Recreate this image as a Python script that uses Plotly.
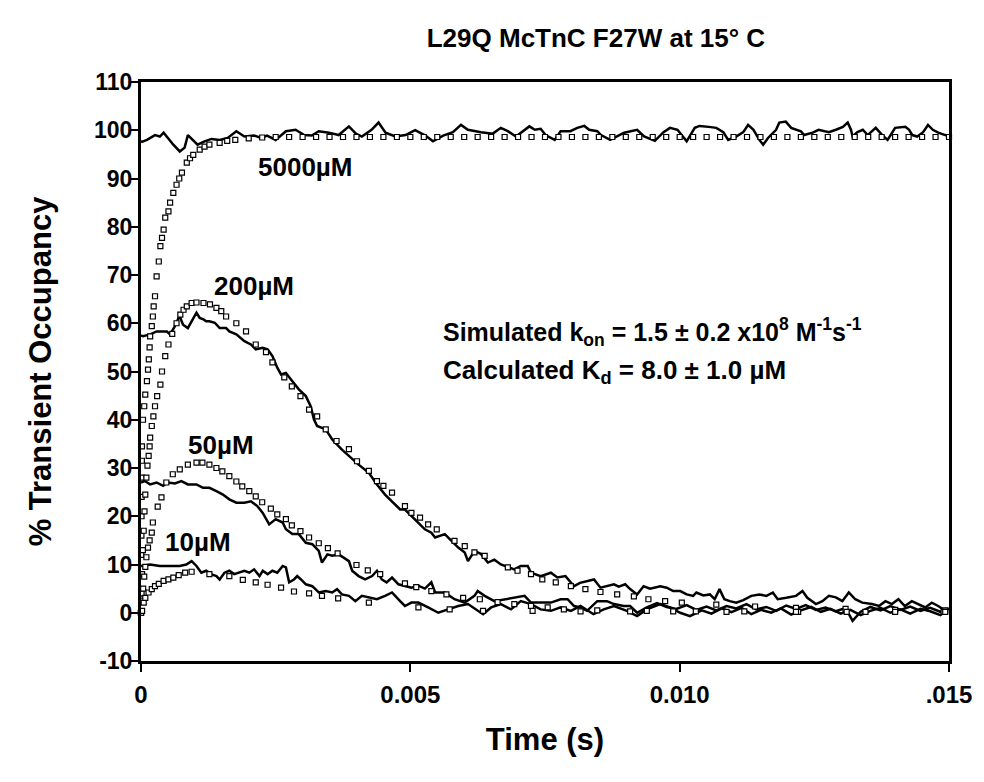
import plotly.graph_objects as go

# ---------------- data (time in ms, occupancy in %) ----------------
# experimental traces
t_5000 = [0.0, 0.02, 0.11, 0.17, 0.26, 0.35, 0.42, 0.50, 0.60, 0.72, 0.81, 0.87, 0.96, 1.05, 1.18, 1.31,
          1.46, 1.61, 1.77, 1.92, 2.10, 2.23, 2.34, 2.50, 2.69, 2.87, 3.03, 3.17, 3.30, 3.49, 3.67, 3.86,
          3.99, 4.10, 4.28, 4.41, 4.54, 4.72, 4.91, 5.09, 5.28, 5.42, 5.61, 5.79, 5.94, 6.07, 6.31, 6.53,
          6.68, 6.81, 6.96, 7.14, 7.21, 7.31, 7.42, 7.51, 7.68, 7.79, 7.97, 8.10, 8.23, 8.32, 8.47, 8.54,
          8.71, 8.97, 9.08, 9.21, 9.34, 9.54, 9.70, 9.82, 9.96, 10.13, 10.28, 10.37, 10.54, 10.68, 10.81,
          10.90, 11.05, 11.18, 11.27, 11.37, 11.48, 11.55, 11.64, 11.79, 11.85, 11.97, 12.07, 12.25, 12.31,
          12.47, 12.58, 12.77, 12.90, 13.03, 13.12, 13.18, 13.21, 13.30, 13.40, 13.49, 13.64, 13.76, 13.86,
          13.95, 14.00, 14.19, 14.26, 14.32, 14.41, 14.52, 14.61, 14.70, 14.80, 14.93, 15.0]
v_5000 = [97.8, 97.6, 98.0, 98.4, 99.0, 98.7, 99.5, 98.4, 97.0, 95.6, 96.4, 99.0, 98.0, 97.0, 97.7, 98.2,
          98.0, 98.4, 99.8, 98.7, 98.9, 98.4, 98.9, 98.0, 99.8, 100.1, 99.0, 98.9, 99.8, 99.5, 99.0, 100.8,
          99.3, 98.7, 100.1, 101.6, 99.5, 98.7, 99.0, 100.0, 98.9, 97.7, 98.9, 99.6, 101.1, 100.1, 99.6, 99.3,
          100.5, 99.8, 98.7, 100.1, 100.8, 100.1, 100.3, 99.0, 98.0, 99.8, 99.8, 100.5, 100.9, 100.1, 99.8, 99.0,
          98.0, 99.5, 99.8, 100.1, 98.7, 97.8, 99.6, 100.5, 100.1, 97.7, 100.5, 100.9, 100.7, 100.5, 99.6,
          98.0, 98.7, 99.6, 101.1, 100.1, 98.0, 97.0, 98.4, 100.1, 101.6, 101.8, 100.5, 99.8, 99.0,
          99.5, 100.1, 99.6, 100.1, 100.7, 101.6, 100.1, 98.7, 99.6, 100.1, 99.0, 100.5, 99.0, 98.0,
          99.6, 100.5, 100.7, 100.1, 99.0, 98.7, 99.6, 101.1, 100.1, 99.5, 99.0, 98.8]

t_200 = [0.0, 0.04, 0.17, 0.29, 0.41, 0.48, 0.54, 0.63, 0.70, 0.72, 0.78, 0.87, 0.96, 1.03, 1.09, 1.16,
         1.21, 1.27, 1.37, 1.46, 1.58, 1.64, 1.77, 1.92, 2.04, 2.13, 2.26, 2.35, 2.44, 2.53, 2.60, 2.69,
         2.81, 2.93, 3.06, 3.15, 3.21, 3.27, 3.43, 3.55, 3.73, 3.89, 4.04, 4.23, 4.38, 4.53, 4.66, 4.81,
         4.90, 5.02, 5.15, 5.27, 5.39, 5.46, 5.64, 5.76, 5.89, 6.01, 6.07, 6.19, 6.31, 6.44, 6.56, 6.68,
         6.81, 6.93, 7.05, 7.18, 7.24, 7.42, 7.61, 7.73, 7.88, 8.04, 8.15, 8.28, 8.41, 8.53, 8.65, 8.78,
         8.87, 8.99, 9.08, 9.21, 9.33, 9.45, 9.64, 9.76, 9.88, 10.01, 10.13, 10.25, 10.31, 10.44, 10.56,
         10.65, 10.74, 10.83, 10.93, 11.05, 11.18, 11.33, 11.48, 11.61, 11.73, 11.82, 11.98, 12.16, 12.28,
         12.37, 12.53, 12.65, 12.77, 12.90, 13.02, 13.14, 13.26, 13.39, 13.57, 13.70, 13.82, 13.94, 14.06,
         14.18, 14.31, 14.43, 14.56, 14.68, 14.80, 14.93, 15.0]
v_200 = [57.5, 57.3, 57.7, 58.3, 58.3, 58.3, 57.7, 59.4, 61.2, 61.4, 59.7, 59.0, 60.8, 62.2, 61.1, 60.8,
         60.4, 60.4, 60.1, 59.0, 59.0, 58.3, 57.7, 56.3, 55.6, 54.6, 54.9, 54.6, 53.2, 50.8, 49.4, 49.7,
         48.0, 46.3, 44.9, 42.8, 40.1, 38.7, 38.0, 35.9, 33.8, 32.1, 30.7, 29.0, 26.6, 24.5, 23.1, 21.4,
         21.4, 20.0, 18.7, 17.3, 16.6, 15.6, 16.3, 14.9, 13.5, 12.5, 10.7, 12.8, 12.2, 10.4, 11.0, 10.0,
         9.4, 9.0, 9.7, 9.7, 8.3, 7.6, 8.3, 7.3, 7.6, 5.5, 6.2, 6.6, 6.9, 5.2, 5.5, 5.9,
         5.4, 5.9, 4.9, 3.8, 5.5, 5.0, 5.5, 5.2, 4.5, 4.5, 3.8, 3.5, 4.2, 3.6, 3.8,
         2.8, 4.9, 2.8, 2.4, 2.1, 2.6, 3.5, 3.8, 3.5, 4.2, 2.8, 3.1, 3.5, 4.5,
         3.1, 1.8, 2.4, 3.5, 3.2, 2.4, 4.2, 2.8, 2.1, 1.8, 1.4, 2.4, 1.8, 2.8,
         1.4, 2.4, 1.8, 1.1, 2.1, 1.4, 0.4, 0.9]

t_50 = [0.0, 0.07, 0.17, 0.29, 0.41, 0.50, 0.63, 0.75, 0.87, 1.03, 1.15, 1.27, 1.40, 1.52, 1.64, 1.77,
        1.92, 2.04, 2.16, 2.26, 2.38, 2.50, 2.63, 2.69, 2.81, 2.93, 3.06, 3.18, 3.30, 3.36, 3.46, 3.55,
        3.67, 3.80, 3.86, 3.92, 4.04, 4.16, 4.29, 4.38, 4.47, 4.56, 4.66, 4.78, 4.90, 5.02, 5.15, 5.27,
        5.39, 5.46, 5.64, 5.82, 6.01, 6.19, 6.25, 6.38, 6.56, 6.75, 6.93, 7.12, 7.24, 7.42, 7.61, 7.79,
        7.92, 8.04, 8.16, 8.28, 8.47, 8.65, 8.78, 8.96, 9.08, 9.21, 9.39, 9.58, 9.76, 9.94, 10.13, 10.31,
        10.50, 10.68, 10.87, 11.05, 11.24, 11.42, 11.61, 11.79, 11.98, 12.16, 12.34, 12.53, 12.71, 12.90,
        13.08, 13.21, 13.36, 13.54, 13.73, 13.91, 14.10, 14.28, 14.47, 14.65, 14.84, 14.96]
v_50 = [27.0, 27.3, 26.6, 27.0, 26.3, 27.0, 26.8, 27.3, 26.6, 26.6, 25.9, 25.9, 25.2, 24.5, 23.5, 22.8,
        22.8, 23.1, 22.1, 20.7, 18.3, 19.4, 18.7, 17.3, 16.3, 16.3, 14.5, 14.2, 12.8, 10.4, 12.1, 11.8,
        12.1, 11.1, 10.7, 8.7, 7.6, 6.9, 7.6, 8.7, 6.9, 6.3, 7.3, 5.9, 5.5, 5.2, 5.6, 5.0,
        6.3, 4.2, 4.2, 2.8, 2.1, 3.5, 4.5, 3.5, 2.4, 2.8, 3.1, 3.5, 2.1, 2.1, 2.1, 2.8,
        2.8, 1.4, 1.1, 0.4, 2.4, 2.4, 1.8, 1.4, 1.4, 0.0, 1.1, 2.0, 1.2, 0.8, 1.6, 0.6,
        1.3, 0.5, 1.4, 0.9, 1.8, 0.7, 1.2, 0.4, 1.5, 0.8, 1.6, 0.6, 1.1, 0.3,
        1.0, -1.7, 0.2, 1.2, 0.5, 1.4, 0.6, 1.3, 0.4, 1.0, 0.2, 0.9]

t_10 = [0.0, 0.17, 0.35, 0.54, 0.72, 0.84, 0.94, 1.03, 1.12, 1.21, 1.30, 1.40, 1.46, 1.55, 1.64, 1.73,
        1.83, 1.92, 2.01, 2.10, 2.20, 2.26, 2.35, 2.44, 2.53, 2.63, 2.69, 2.75, 2.84, 2.90, 2.97, 3.06,
        3.18, 3.30, 3.43, 3.55, 3.64, 3.73, 3.86, 3.98, 4.10, 4.23, 4.38, 4.53, 4.66, 4.81, 4.90, 5.02,
        5.15, 5.33, 5.52, 5.70, 5.89, 6.07, 6.25, 6.35, 6.50, 6.68, 6.87, 7.05, 7.24, 7.42, 7.61, 7.79,
        7.98, 8.16, 8.40, 8.59, 8.78, 9.02, 9.21, 9.39, 9.64, 9.82, 10.01, 10.19, 10.41, 10.59, 10.78,
        10.96, 11.15, 11.33, 11.51, 11.70, 11.88, 12.07, 12.25, 12.44, 12.62, 12.80, 12.99, 13.17, 13.36,
        13.54, 13.73, 13.91, 14.10, 14.28, 14.47, 14.65, 14.84, 14.96]
v_10 = [9.7, 10.0, 9.7, 9.7, 9.7, 10.0, 10.7, 9.7, 8.3, 8.7, 8.0, 7.6, 6.9, 8.3, 8.7, 8.0,
        8.3, 8.7, 8.3, 9.0, 7.6, 8.7, 8.0, 8.7, 8.3, 9.7, 9.4, 6.3, 6.9, 7.6, 6.9, 5.9,
        5.5, 4.2, 4.5, 4.2, 4.9, 3.8, 3.5, 2.4, 3.5, 3.1, 2.8, 3.5, 4.2, 2.4, 1.4, 2.1,
        2.1, 1.1, 0.0, 0.7, 1.4, 1.8, 0.4, -0.3, 1.1, 1.8, 0.7, 2.4, 1.8, 0.7, 0.4, 1.1,
        0.4, 1.4, -0.3, 0.7, 1.4, 0.4, -0.7, 0.7, 1.8, 1.1, 0.0, -0.7, 0.5, -0.2, 0.9,
        0.1, 1.0, -0.3, 0.6, 0.0, 0.9, -0.4, 0.5, 1.2, 0.2, 0.8, -0.2, 0.6, -0.5,
        0.4, 1.0, 0.0, 0.7, -0.2, 0.8, 0.3, -0.5, 0.5]

# simulated curves (open squares)
ts_5000 = [0.0, 0.002, 0.004, 0.006, 0.008, 0.010, 0.012, 0.014, 0.016, 0.018, 0.037, 0.06, 0.079, 0.11,
           0.13, 0.145, 0.16, 0.17, 0.20, 0.22, 0.235, 0.26, 0.29, 0.33, 0.36, 0.39, 0.42, 0.45, 0.51,
           0.54, 0.60, 0.66, 0.71, 0.76, 0.85, 0.91, 0.97, 1.09, 1.18, 1.27, 1.46, 1.60, 1.75, 2.0, 2.25,
           2.5, 2.75, 3.0, 3.25, 3.5, 3.75, 4.0, 4.25, 4.5, 4.75, 5.0, 5.25, 5.5, 5.75, 6.0, 6.25, 6.5,
           6.75, 7.0, 7.25, 7.5, 7.75, 8.0, 8.25, 8.5, 8.75, 9.0, 9.25, 9.5, 9.75, 10.0, 10.25, 10.5,
           10.75, 11.0, 11.25, 11.5, 11.75, 12.0, 12.25, 12.5, 12.75, 13.0, 13.25, 13.5, 13.75, 14.0,
           14.25, 14.5, 14.75, 15.0]
vs_5000 = [0.0, 4.0, 8.0, 12.0, 16.0, 20.0, 24.0, 28.0, 31.5, 34.5, 40.0, 42.8, 45.2, 48.0,
           50.4, 52.5, 55.0, 57.3, 59.4, 61.4, 63.5, 65.6, 69.7, 72.8, 76.0, 77.7, 79.4, 81.9, 83.2,
           85.0, 87.0, 88.7, 90.0, 91.2, 93.3, 94.2, 94.9, 96.0, 96.6, 97.0, 97.4, 97.8, 98.0, 98.3, 98.5,
           98.6, 98.6, 98.6, 98.6, 98.6, 98.6, 98.6, 98.6, 98.6, 98.6, 98.6, 98.6, 98.6, 98.6, 98.6, 98.6, 98.6,
           98.6, 98.6, 98.6, 98.6, 98.6, 98.6, 98.6, 98.6, 98.6, 98.6, 98.6, 98.6, 98.6, 98.6, 98.6, 98.6,
           98.6, 98.6, 98.6, 98.6, 98.6, 98.6, 98.6, 98.6, 98.6, 98.6, 98.6, 98.6, 98.6, 98.6,
           98.6, 98.6, 98.6, 98.6]

ts_200 = [0.0, 0.01, 0.02, 0.035, 0.05, 0.065, 0.08, 0.10, 0.12, 0.142, 0.16, 0.17, 0.20, 0.23, 0.26,
          0.30, 0.36, 0.39, 0.45, 0.51, 0.58, 0.66, 0.73, 0.79, 0.85, 0.94, 1.03, 1.16, 1.28, 1.40, 1.49,
          1.58, 1.77, 1.95, 2.13, 2.32, 2.44, 2.66, 2.80, 2.96, 3.12, 3.27, 3.43, 3.63, 3.86, 4.01, 4.23,
          4.38, 4.50, 4.66, 4.90, 5.02, 5.18, 5.33, 5.49, 5.82, 6.01, 6.19, 6.38, 6.81, 6.99, 7.24, 7.45,
          7.70, 7.98, 8.25, 8.53, 8.84, 9.15, 9.42, 9.73, 10.04, 10.68, 11.40, 12.16, 13.08, 14.0, 14.93]
vs_200 = [0.0, 4.0, 8.0, 13.0, 17.0, 21.0, 24.5, 28.0, 30.5, 32.5, 34.5, 36.3, 38.7, 40.7, 42.8,
          44.9, 47.3, 50.0, 53.2, 55.6, 57.8, 60.0, 61.8, 62.8, 63.5, 64.2, 64.3, 64.2, 63.9, 63.2, 62.5,
          61.4, 60.0, 58.3, 55.6, 54.0, 51.9, 48.8, 46.9, 44.9, 42.1, 40.7, 38.0, 35.6, 33.9, 31.4, 29.4,
          27.3, 26.3, 24.9, 22.1, 20.7, 19.7, 18.3, 17.3, 14.9, 13.8, 12.5, 11.8, 9.4, 8.7, 8.0, 6.9,
          6.3, 5.5, 4.9, 4.3, 3.8, 3.4, 2.8, 2.4, 2.1, 1.7, 1.3, 1.0, 0.8, 0.6, 0.5]

ts_50 = [0.0, 0.02, 0.04, 0.06, 0.08, 0.10, 0.13, 0.16, 0.20, 0.22, 0.31, 0.38, 0.47, 0.59, 0.72, 0.87,
         1.03, 1.14, 1.27, 1.40, 1.51, 1.64, 1.77, 1.88, 2.01, 2.13, 2.25, 2.41, 2.53, 2.69, 2.80, 2.96,
         3.12, 3.30, 3.47, 3.65, 4.00, 4.21, 4.44, 4.90, 5.11, 5.39, 5.67, 5.98, 6.29, 6.62, 6.93, 7.24,
         7.55, 7.85, 8.47, 9.39, 10.3, 11.2, 12.2, 13.1, 14.0, 14.9]
vs_50 = [0.0, 2.5, 5.0, 7.5, 9.5, 11.5, 13.5, 15.0, 16.6, 18.7, 22.0, 23.9, 27.0, 28.7, 29.7, 30.7,
         31.1, 31.1, 30.7, 30.0, 29.3, 28.3, 27.2, 26.2, 25.2, 24.1, 22.9, 21.6, 20.4, 19.4, 18.1, 16.9,
         15.6, 14.4, 13.4, 12.3, 9.9, 8.8, 8.0, 6.1, 5.3, 4.5, 3.8, 3.1, 2.8, 2.2, 1.8, 1.4,
         1.1, 0.7, 0.5, 0.4, 0.3, 0.3, 0.2, 0.2, 0.2, 0.2]

ts_10 = [0.0, 0.02, 0.05, 0.08, 0.14, 0.20, 0.26, 0.33, 0.42, 0.51, 0.60, 0.70, 0.82, 0.94, 1.27, 1.64,
         1.89, 2.13, 2.35, 2.60, 2.84, 3.12, 3.36, 3.66, 4.23, 5.15, 5.73, 6.35, 7.27, 8.16, 9.08, 9.88,
         10.87, 12.16, 13.45, 14.93]
vs_10 = [0.0, 0.4, 2.1, 3.1, 4.2, 4.9, 5.5, 6.0, 6.6, 6.9, 7.3, 7.8, 8.3, 8.5, 8.0, 7.6,
         6.8, 6.3, 5.8, 5.2, 4.4, 4.0, 3.5, 3.0, 2.1, 1.1, 0.7, 0.4, 0.4, 0.3, 0.3, 0.3,
         0.2, 0.2, 0.2, 0.2]

# labels
x_ticks = [0, 0.005, 0.010, 0.015]
x_ticktext = ["0", "0.005", "0.010", ".015"]
y_ticks = [-10, 0, 10, 20, 30, 40, 50, 60, 70, 80, 90, 100, 110]
y_ticktext = ["-10", "0", "10", "20", "30", "40", "50", "60", "70", "80", "90", "100", "110"]
conc_labels = ["5000µM", "200µM", "50µM", "10µM"]
conc_label_pos = [(3.04, 92.4), (2.10, 67.8), (1.49, 34.7), (1.05, 14.6)]

FONT = "Liberation Sans, Arial, sans-serif"


def sec(ms):
    return [v / 1000.0 for v in ms]


fig = go.Figure()

for t, v in [(t_5000, v_5000), (t_200, v_200), (t_50, v_50), (t_10, v_10)]:
    fig.add_trace(go.Scatter(x=sec(t), y=v, mode="lines",
                             line=dict(color="black", width=2.5), showlegend=False))

for t, v in [(ts_5000, vs_5000), (ts_200, vs_200), (ts_50, vs_50), (ts_10, vs_10)]:
    fig.add_trace(go.Scatter(x=sec(t), y=v, mode="markers",
                             marker=dict(symbol="square", size=5, color="white",
                                         line=dict(color="black", width=1.2)),
                             showlegend=False, cliponaxis=False))

for txt, (tx, ty) in zip(conc_labels, conc_label_pos):
    fig.add_annotation(x=tx / 1000.0, y=ty, text="<b>" + txt + "</b>", showarrow=False,
                       font=dict(family=FONT, size=26, color="black"))

fig.add_annotation(x=0.00557, y=58.1, xanchor="left",
                   text="<b>Simulated k<sub>on</sub> = 1.5 ± 0.2 x10<sup>8</sup> M<sup>-1</sup>s<sup>-1</sup></b>",
                   showarrow=False, font=dict(family=FONT, size=25, color="black"))
fig.add_annotation(x=0.00557, y=50.0, xanchor="left",
                   text="<b>Calculated K<sub>d</sub> = 8.0 ± 1.0 µM</b>",
                   showarrow=False, font=dict(family=FONT, size=26, color="black"))

fig.update_layout(
    width=984, height=782,
    margin=dict(l=141, r=31, t=82, b=121),
    paper_bgcolor="white", plot_bgcolor="white",
    font=dict(family=FONT, color="black"),
    title=dict(text="<b>L29Q McTnC F27W at 15° C</b>", xref="paper", x=0.563, xanchor="center",
               y=0.951, yanchor="middle", font=dict(family=FONT, size=26, color="black")),
)
fig.update_xaxes(range=[0, 0.015], tickvals=x_ticks, ticktext=x_ticktext,
                 showgrid=False, zeroline=False, showline=True, linewidth=3, linecolor="black",
                 mirror=True, ticks="outside", ticklen=8, tickwidth=2, tickcolor="black",
                 ticklabelstandoff=2,
                 tickfont=dict(family=FONT, size=24, color="black", weight="bold"),
                 title=dict(text="<b>Time (s)</b>", font=dict(family=FONT, size=31, color="black"),
                            standoff=22))
fig.update_yaxes(range=[-10, 110], tickvals=y_ticks, ticktext=y_ticktext,
                 showgrid=False, zeroline=False, showline=True, linewidth=3, linecolor="black",
                 mirror=True, ticks="outside", ticklen=8, tickwidth=2, tickcolor="black",
                 ticklabelstandoff=-7,
                 tickfont=dict(family=FONT, size=23, color="black", weight="bold"),
                 title=dict(text="<b>% Transient Occupancy</b>", font=dict(family=FONT, size=31, color="black"),
                            standoff=34))

fig.write_html("out.html")
